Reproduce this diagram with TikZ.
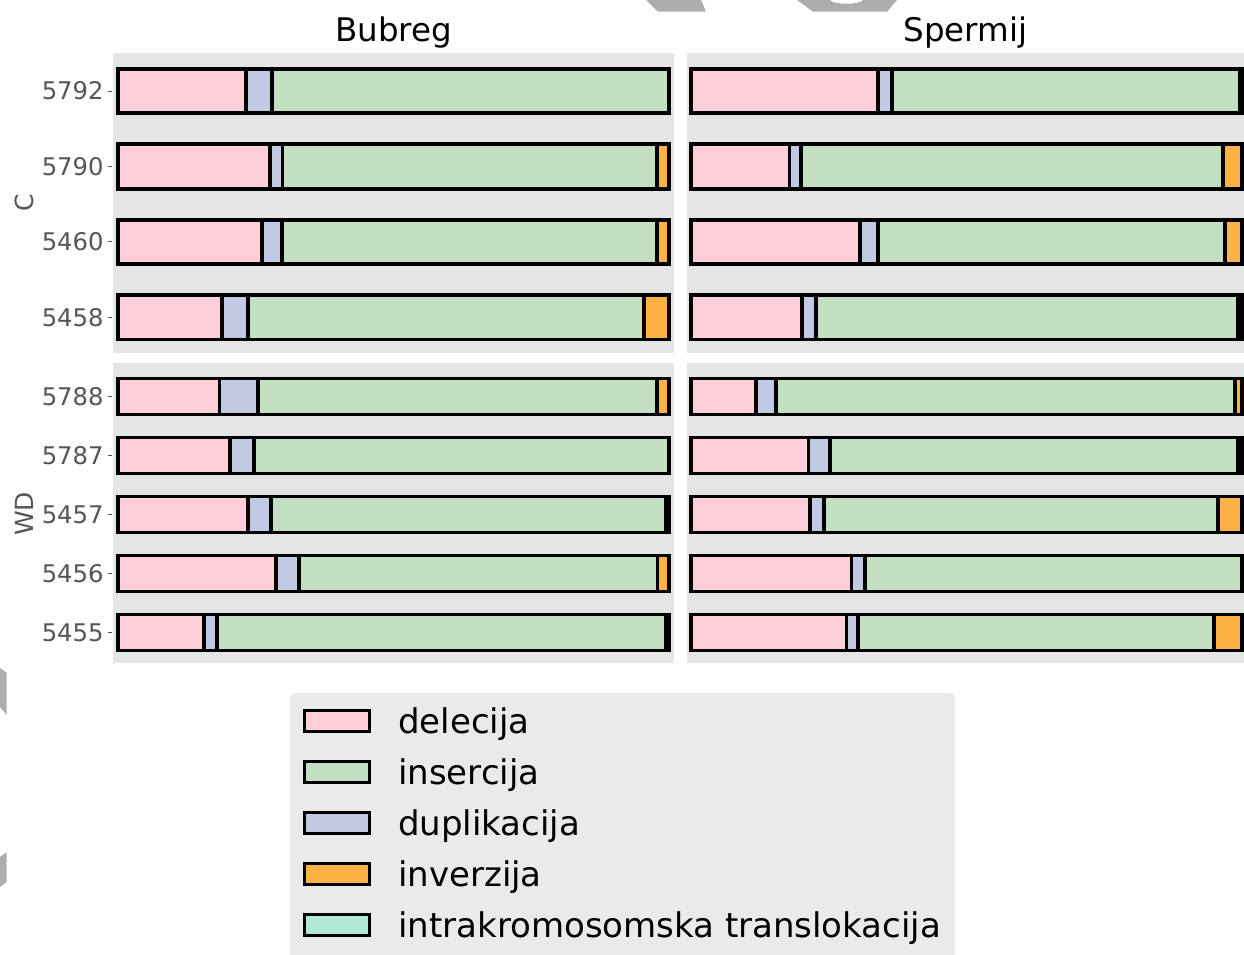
\documentclass[tikz,border=0pt]{standalone}
\usepackage{fontspec}
\setmainfont{DejaVu Sans}
\definecolor{pinkc}{HTML}{FECEDB}
\definecolor{dupc}{HTML}{C1C9E3}
\definecolor{insc}{HTML}{C3E1C2}
\definecolor{invc}{HTML}{FEB246}
\definecolor{trac}{HTML}{B2E8D4}
\definecolor{panelbg}{HTML}{E5E5E5}
\definecolor{legbg}{HTML}{EAEAEA}
\definecolor{ticktxt}{HTML}{555555}
\definecolor{wmark}{HTML}{ADADAD}
\newcommand\segbar[3]{%
  \foreach \xa/\xb/\cl in {#3} {
    \draw[seg, fill=\cl] (\xa,#1-#2) rectangle (\xb,#1+#2);
  }}
\begin{document}
\begin{tikzpicture}[x=1pt,y=-1pt,
  seg/.style={draw=black, line width=3.8pt},
  panel/.style={fill=panelbg, draw=none},
  ticklab/.style={anchor=east, text=ticktxt, font=\fontsize{24.3}{28}\selectfont, inner sep=0pt},
  axlab/.style={rotate=90, text=ticktxt, font=\fontsize{25}{29}\selectfont, inner sep=0pt},
  ttl/.style={anchor=base, font=\fontsize{32.5}{38}\selectfont, inner sep=0pt},
  legtxt/.style={anchor=base west, font=\fontsize{34}{39}\selectfont, inner sep=0pt},
  legpatch/.style={draw=black, line width=3.5pt},
  tickmark/.style={draw=ticktxt, line width=0.8pt}]
\useasboundingbox (0,0) rectangle (1244,954);
\clip (0,0) rectangle (1244,954);
\fill[white] (0,0) rectangle (1244,954);
% watermark fragments
\fill[wmark] (646,0) -- (658,11.7) -- (706,11.7) -- (701,0) -- cycle;
\fill[wmark] (797,0) -- (813,11.7) -- (887,11.7) -- (897,0) -- (863,0)
  .. controls (860,5) and (833,5) .. (830,0) -- cycle;
\fill[wmark] (0,668) -- (6.7,673) -- (6.7,715) -- (0,707) -- cycle;
\fill[wmark] (0,857) -- (6.7,852) -- (6.7,882) -- (0,887) -- cycle;
% titles
\node[ttl] (tb) at (393.5,41.7) {Bubreg};
\node[ttl] (ts) at (965.5,41.7) {Spermij};
% panels
\fill[panel] (113,53) rectangle (674,353);
\fill[panel] (687,53) rectangle (1244,353);
\fill[panel] (113,363) rectangle (674,663);
\fill[panel] (687,363) rectangle (1244,663);
% axis labels
\node[axlab] (lc) at (24,203) {C};
\node[axlab] (lwd) at (24,514) {WD};
% tick labels and marks
\foreach \yy/\lab in {91/5792,166.4/5790,241.8/5460,317.2/5458,396.5/5788,455.5/5787,514.5/5457,573.5/5456,632.5/5455} {
  \node[ticklab] (t\lab) at (103.8,\yy) {\lab};
  \draw[tickmark] (108,\yy) -- (112,\yy);
}
% Bubreg, C
\segbar{91}{22.2}{117.8/246/pinkc, 246/272/dupc, 272/669.3/insc}
\segbar{166.4}{22.2}{117.8/270/pinkc, 270/282.5/dupc, 282.5/657/insc, 657/669.3/invc}
\segbar{241.8}{22.2}{117.8/262/pinkc, 262/282/dupc, 282/657/insc, 657/669.3/invc}
\segbar{317.2}{22.2}{117.8/222/pinkc, 222/248/dupc, 248/644/insc, 644/669.3/invc}
% Bubreg, WD
\segbar{396.5}{18}{117.8/219.5/pinkc, 219.5/258/dupc, 258/657/insc, 657/669.3/invc}
\segbar{455.5}{18}{117.8/230/pinkc, 230/254/dupc, 254/669.3/insc}
\segbar{514.5}{18}{117.8/247.6/pinkc, 247.6/270.7/dupc, 270.7/665.5/insc, 665.5/669.3/trac}
\segbar{573.5}{18}{117.8/276/pinkc, 276/299/dupc, 299/657.5/insc, 657.5/669.3/invc}
\segbar{632.5}{18}{117.8/204/pinkc, 204/217/dupc, 217/665.5/insc, 665.5/669.3/trac}
% Spermij, C
\segbar{91}{22.2}{691/877.7/pinkc, 877.7/892.3/dupc, 892.3/1239.7/insc, 1239.7/1242/trac}
\segbar{166.4}{22.2}{691/789.5/pinkc, 789.5/801.3/dupc, 801.3/1223/insc, 1223/1242/invc}
\segbar{241.8}{22.2}{691/860/pinkc, 860/878.3/dupc, 878.3/1224.7/insc, 1224.7/1242/invc}
\segbar{317.2}{22.2}{691/802.3/pinkc, 802.3/816/dupc, 816/1238.3/insc, 1238.3/1242/trac}
% Spermij, WD
\segbar{396.5}{18}{691/755.7/pinkc, 755.7/776/dupc, 776/1234.7/insc, 1234.7/1242/invc}
\segbar{455.5}{18}{691/808.5/pinkc, 808.5/829.7/dupc, 829.7/1238.3/insc, 1238.3/1242/trac}
\segbar{514.5}{18}{691/810/pinkc, 810/824.3/dupc, 824.3/1217.7/insc, 1217.7/1242/invc}
\segbar{573.5}{18}{691/851.5/pinkc, 851.5/865/dupc, 865/1242/insc}
\segbar{632.5}{18}{691/846.5/pinkc, 846.5/858.3/dupc, 858.3/1214.3/insc, 1214.3/1242/invc}
% legend
\fill[legbg, rounded corners=6pt] (290,693) rectangle (955,980);
\foreach \k/\cl/\lab in {0/pinkc/delecija, 1/insc/insercija, 2/dupc/duplikacija, 3/invc/inverzija, 4/trac/intrakromosomska translokacija} {
  \draw[legpatch, fill=\cl] (304.7,{720.8+51*\k-10.5}) rectangle (369.7,{720.8+51*\k+10.5});
  \node[legtxt] (leg\k) at (398,{733.3+51*\k}) {\lab};
}
\end{tikzpicture}
\end{document}
